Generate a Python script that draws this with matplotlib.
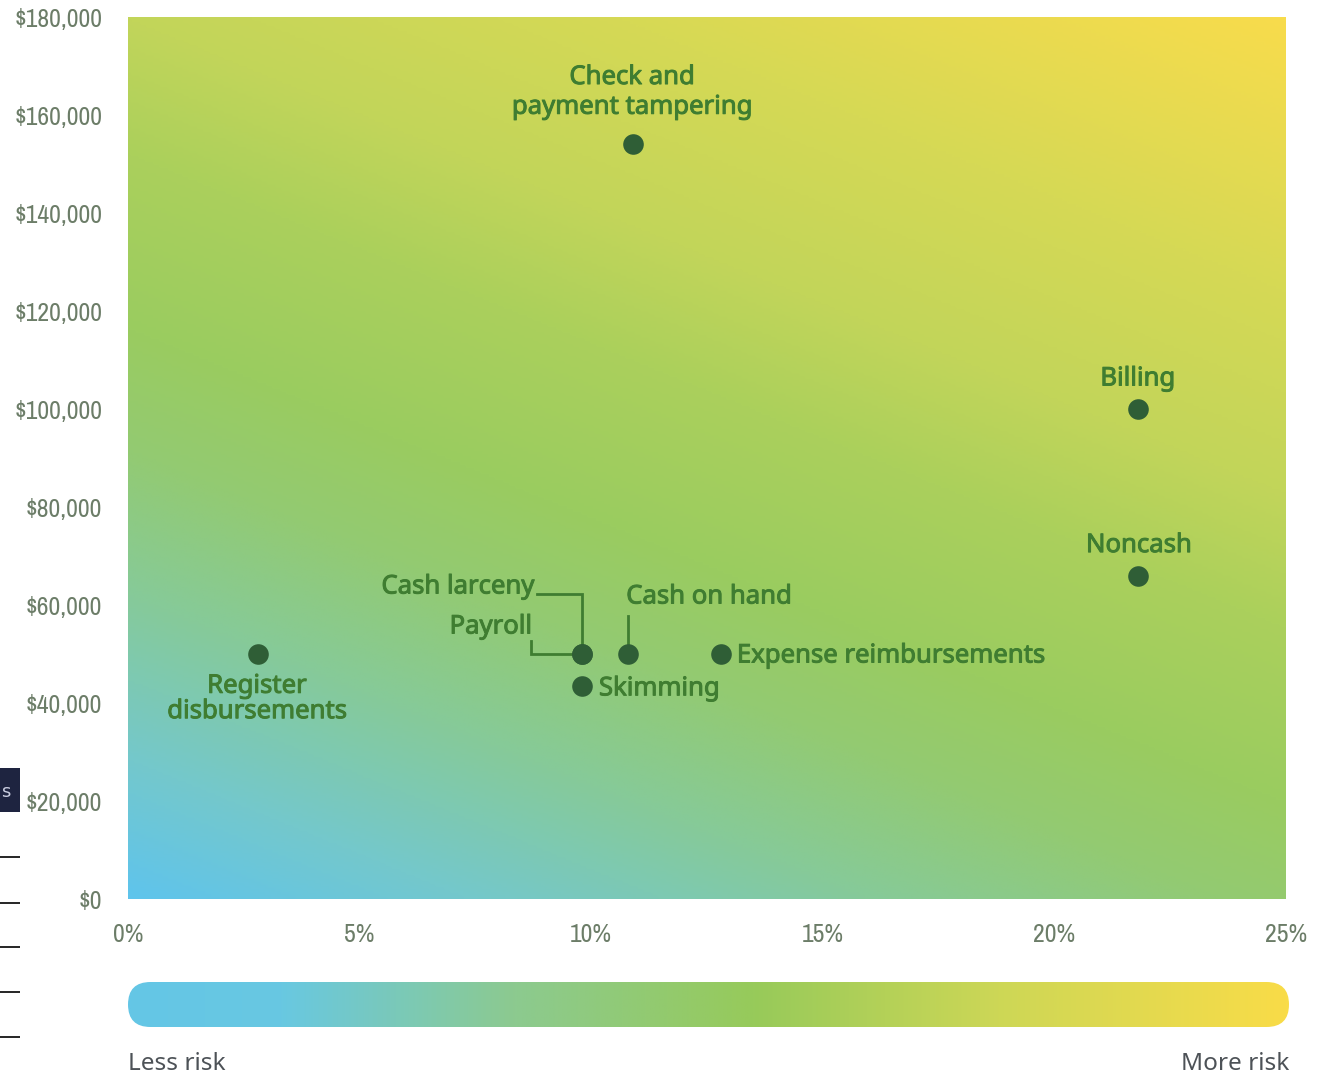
import numpy as np
import matplotlib
matplotlib.use("Agg")
import matplotlib.pyplot as plt
import matplotlib.patheffects as pe
from matplotlib.colors import LinearSegmentedColormap
from matplotlib.patches import FancyBboxPatch, Rectangle
from matplotlib.ticker import FuncFormatter
from matplotlib import font_manager

# ---- data ----
schemes = ["Check and\npayment tampering", "Billing", "Noncash", "Register\ndisbursements",
           "Cash larceny", "Payroll", "Cash on hand", "Expense reimbursements", "Skimming"]
frequency_pct = [10.9, 21.8, 21.8, 2.8, 9.8, 9.8, 10.8, 12.8, 9.8]
median_loss = [154000, 100000, 66000, 50000, 50000, 50000, 50000, 50000, 43500]
x_ticks = [0, 5, 10, 15, 20, 25]
y_ticks = [0, 20000, 40000, 60000, 80000, 100000, 120000, 140000, 160000, 180000]
scale_labels = ["Less risk", "More risk"]

W, H = 1324, 1075
fig = plt.figure(figsize=(W / 100, H / 100), dpi=100)

# pick a narrow face for the axis numbers, if one is installed
narrow_family, narrow_stretch = "DejaVu Sans", "normal"
for entry in font_manager.fontManager.ttflist:
    nm = entry.name
    if "Narrow" in nm or "Condensed" in nm:
        narrow_family, narrow_stretch = nm, "normal"
        break
else:
    for entry in font_manager.fontManager.ttflist:
        if entry.stretch in ("condensed", "semi-condensed", "extra-condensed") and entry.style == "normal":
            narrow_family, narrow_stretch = entry.name, entry.stretch
            break
narrow = [narrow_family, "DejaVu Sans"]
label_font = ["Noto Sans", "DejaVu Sans"]

ax = fig.add_axes([128 / W, 1 - 899 / H, (1286 - 128) / W, (899 - 17) / H])
ax.set_xlim(0, 25)
ax.set_ylim(0, 180000)

# diagonal risk background: blue at low frequency / low loss, yellow at high
bg_cmap = LinearSegmentedColormap.from_list(
    "risk_bg",
    [(0.0, "#5fc4ec"), (0.1, "#74c8cc"), (0.22, "#86ca9a"), (0.33, "#93ca72"),
     (0.42, "#9acc60"), (0.55, "#abd05c"), (0.65, "#c2d55a"), (0.8, "#d6d955"),
     (1.0, "#f8dc4c")])
gx, gy = np.meshgrid(np.linspace(0, 1, 400), np.linspace(0, 1, 300))
t = 0.35 * gx + 0.65 * gy
ax.imshow(t, cmap=bg_cmap, origin="lower", extent=[0, 25, 0, 180000],
          aspect="auto", interpolation="bilinear", zorder=0)

for s in ax.spines.values():
    s.set_visible(False)
ax.tick_params(length=0)
ax.set_xticks(x_ticks)
ax.set_yticks(y_ticks)
ax.xaxis.set_major_formatter(FuncFormatter(lambda v, p: f"{v:.0f}%"))
ax.yaxis.set_major_formatter(FuncFormatter(lambda v, p: f"${v:,.0f}"))
tick_color = "#6c7d68"
for lab in ax.get_yticklabels() + ax.get_xticklabels():
    lab.set_fontfamily(narrow)
    lab.set_fontstretch(narrow_stretch)
    lab.set_fontsize(18.5)
    lab.set_color(tick_color)
ax.tick_params(axis="y", pad=18.5)
ax.tick_params(axis="x", pad=17.5)

dot_color = "#2f5e36"
text_color = "#3f7d31"
ax.scatter(frequency_pct, median_loss, s=220, color=dot_color, zorder=5, linewidths=0)

# label offsets in pixels relative to each point
label_specs = {
    "Check and\npayment tampering": dict(off=(-1, 52), ha="center", va="center", ls=1.25),
    "Billing": dict(off=(0, 30), ha="center", va="center", ls=1.0),
    "Noncash": dict(off=(1, 30), ha="center", va="center", ls=1.0),
    "Register\ndisbursements": dict(off=(-1, -45), ha="center", va="center", ls=1.02),
    "Cash larceny": dict(off=(-48, 67), ha="right", va="center", ls=1.0),
    "Payroll": dict(off=(-50, 27), ha="right", va="center", ls=1.0),
    "Cash on hand": dict(off=(-2, 57), ha="left", va="center", ls=1.0),
    "Expense reimbursements": dict(off=(16, -2), ha="left", va="center", ls=1.0),
    "Skimming": dict(off=(17, -3), ha="left", va="center", ls=1.0),
}
heavier = [pe.withStroke(linewidth=0.7, foreground=text_color)]
for name, xv, yv in zip(schemes, frequency_pct, median_loss):
    spec = label_specs[name]
    ax.annotate(name, (xv, yv), xytext=spec["off"], textcoords="offset pixels",
                ha=spec["ha"], va=spec["va"], fontsize=18.5, color=text_color,
                fontfamily=label_font, fontweight="semibold", linespacing=spec["ls"],
                zorder=6, path_effects=heavier)

# leader lines for the crowded cluster
to_disp = ax.transData.transform
to_data = ax.transData.inverted().transform


def px_path(xv, yv, pts):
    bx, by = to_disp((xv, yv))
    return np.array([to_data((bx + dx, by + dy)) for dx, dy in pts])


i_cl = schemes.index("Cash larceny")
cl = px_path(frequency_pct[i_cl], median_loss[i_cl], [(-45, 60), (0, 60), (0, 8)])
ax.plot(cl[:, 0], cl[:, 1], color=text_color, lw=2, zorder=4, solid_joinstyle="miter")
i_pr = schemes.index("Payroll")
pr = px_path(frequency_pct[i_pr], median_loss[i_pr], [(-51, 13), (-51, 0), (-8, 0)])
ax.plot(pr[:, 0], pr[:, 1], color=text_color, lw=2, zorder=4, solid_joinstyle="miter")
i_ch = schemes.index("Cash on hand")
ch = px_path(frequency_pct[i_ch], median_loss[i_ch], [(0, 38), (0, 6)])
ax.plot(ch[:, 0], ch[:, 1], color=text_color, lw=2, zorder=4)

# risk scale bar below the chart
bar_ax = fig.add_axes([128 / W, 1 - 1027 / H, (1289 - 128) / W, 45 / H])
bar_ax.set_xlim(0, 1)
bar_ax.set_ylim(0, 1)
bar_ax.axis("off")
bar_cmap = LinearSegmentedColormap.from_list(
    "risk_bar",
    [(0.0, "#64c6e6"), (0.13, "#68c8e2"), (0.33, "#8cca90"), (0.54, "#97ca5a"),
     (0.75, "#cdd756"), (1.0, "#f9dc48")])
grad = bar_ax.imshow(np.linspace(0, 1, 512)[None, :], cmap=bar_cmap, extent=[0, 1, 0, 1],
                     aspect="auto", interpolation="bilinear")
bar_w = 1289 - 128
clip = FancyBboxPatch((128, H - 1027), bar_w, 45, boxstyle="round,pad=0,rounding_size=22.5",
                      transform=None, facecolor="none", edgecolor="none")
fig.patches.append(clip)
grad.set_clip_path(clip)

fig.text(128 / W, 1 - 1064 / H, scale_labels[0], ha="left", va="center",
         fontsize=17.5, color="#4d5257", fontfamily=label_font)
fig.text(1289 / W, 1 - 1064 / H, scale_labels[1], ha="right", va="center",
         fontsize=17.5, color="#4d5257", fontfamily=label_font)

# page fragments at the left margin
fig.patches.append(Rectangle((0, 1 - 812 / H), 20 / W, 44 / H, transform=fig.transFigure,
                             facecolor="#1e2440", edgecolor="none"))
fig.text(1 / W, 1 - 792 / H, "s", fontsize=13, color="#c9cde0", ha="left", va="center")
for yy in [857, 903, 947, 992, 1037]:
    fig.patches.append(Rectangle((0, 1 - (yy + 1) / H), 20 / W, 2.5 / H,
                                 transform=fig.transFigure, facecolor="#2a2a2a",
                                 edgecolor="none"))

fig.savefig("out.png", dpi=100, facecolor="white")
